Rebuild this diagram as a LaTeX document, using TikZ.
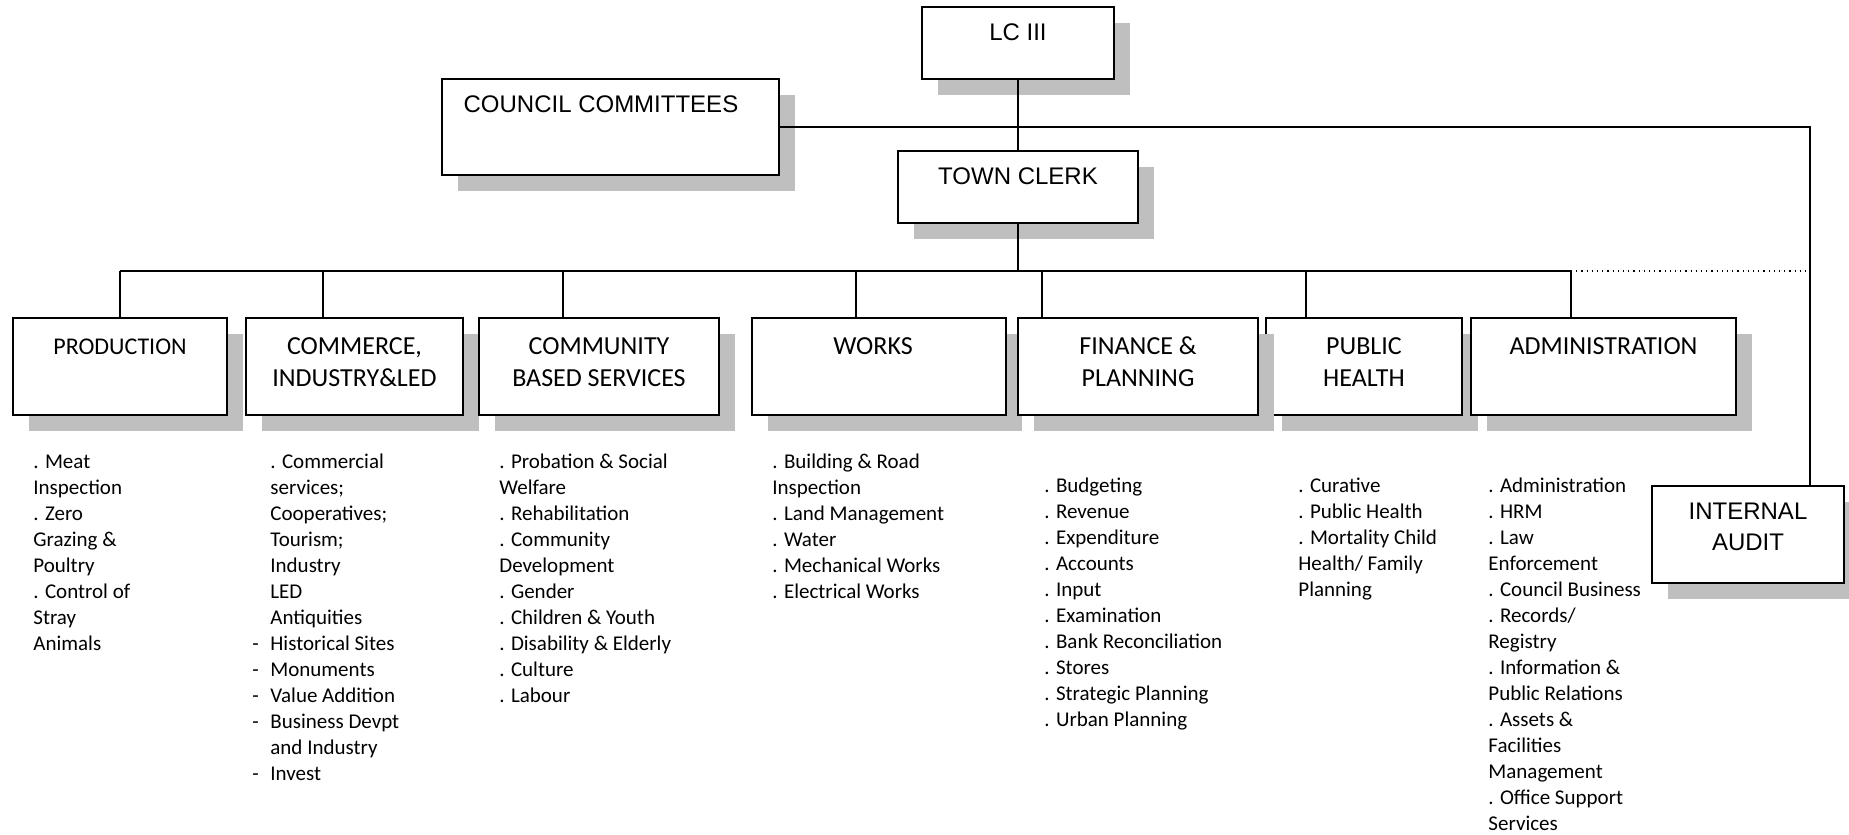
\documentclass[tikz,border=0pt]{standalone}
\usepackage{fontspec}
\setmainfont{Carlito}
\newfontfamily\arialfont{Liberation Sans}
\usetikzlibrary{shadows}
\definecolor{shade}{RGB}{191,191,191}
\newcommand\itemdash{\makebox[9pt][l]{-}}
\newcommand\ind{\hspace*{9pt}}
\begin{document}
\begin{tikzpicture}[x=0.5pt,y=-0.5pt,
  box/.style={draw, line width=0.8pt, fill=white, inner sep=0pt,
    drop shadow={shadow xshift=8pt, shadow yshift=-8pt, opacity=1, fill=shade, draw=none}},
  conn/.style={line width=0.6pt},
  dtitle/.style={anchor=north, inner sep=0pt, align=center, font=\fontsize{13}{16}\selectfont},
  atitle/.style={anchor=north, inner sep=0pt, align=center, font=\arialfont\fontsize{12}{15.5}\selectfont},
  items/.style={anchor=north west, inner sep=0pt, align=left, font=\fontsize{10.5}{13}\selectfont},
  dept/.style={box, minimum height=48.5pt}]
\useasboundingbox (0,0) rectangle (1849,835);
\fill[white] (0,0) rectangle (1849,835);

% top boxes
\node[box, minimum width=96pt, minimum height=36pt] (lc) at (1018,43) {};
\node[atitle] (lct) at ([yshift=-5pt]lc.north) {\rule{0pt}{12pt}LC III};
\node[box, minimum width=168.5pt, minimum height=48pt] (cc) at (610.5,127) {};
\node[atitle, anchor=north west, align=left] (cct) at ([xshift=11pt,yshift=-5pt]cc.north west) {\rule{0pt}{12pt}COUNCIL COMMITTEES};
\node[box, minimum width=120pt, minimum height=36pt] (tc) at (1018,187) {};
\node[atitle] (tct) at ([yshift=-5pt]tc.north) {\rule{0pt}{12pt}TOWN CLERK};

% department boxes
\node[dept, minimum width=107pt] (prod) at (120,366.5) {};
\node[dtitle, font=\fontsize{12}{16}\selectfont] (prodt) at ([yshift=-6.3pt]prod.north) {\rule{0pt}{12pt}PRODUCTION};
\node[dept, minimum width=108.5pt] (comm) at (354.5,366.5) {};
\node[dtitle] (commt) at ([yshift=-6.3pt]comm.north) {\rule{0pt}{12pt}COMMERCE,\\INDUSTRY\&LED};
\node[dept, minimum width=120pt] (cbs) at (599,366.5) {};
\node[dtitle] (cbst) at ([yshift=-6.3pt]cbs.north) {\rule{0pt}{12pt}COMMUNITY\\BASED SERVICES};
\node[dept, minimum width=127pt] (works) at (879,366.5) {};
\node[dtitle] (workst) at ([xshift=-3pt,yshift=-6.3pt]works.north) {\rule{0pt}{12pt}WORKS};
\node[dept, minimum width=98pt] (ph) at (1364,366.5) {};
\node[dtitle] (pht) at ([yshift=-6.3pt]ph.north) {\rule{0pt}{12pt}PUBLIC\\HEALTH};
\node[dept, minimum width=120pt] (fin) at (1138,366.5) {};
\node[dtitle] (fint) at ([yshift=-6.3pt]fin.north) {\rule{0pt}{12pt}FINANCE \&\\PLANNING};
\node[dept, minimum width=132.5pt] (adm) at (1603.5,366.5) {};
\node[dtitle] (admt) at ([yshift=-6.3pt]adm.north) {\rule{0pt}{12pt}ADMINISTRATION};

% internal audit
\node[box, minimum width=96pt, minimum height=48.5pt] (ia) at (1748,534.5) {};
\node[atitle] (iat) at ([yshift=-5pt]ia.north) {\rule{0pt}{12pt}INTERNAL\\AUDIT};

% lists
\node[items] (lprod) at (33,448) {\rule{0pt}{10pt}. Meat\\Inspection\\. Zero\\Grazing \&\\Poultry\\. Control of\\Stray\\Animals};
\node[items] (lcomm) at (252,448) {\rule{0pt}{10pt}\ind. Commercial\\\ind services;\\\ind Cooperatives;\\\ind Tourism;\\\ind Industry\\\ind LED\\\ind Antiquities\\\itemdash Historical Sites\\\itemdash Monuments\\\itemdash Value Addition\\\itemdash Business Devpt\\\ind and Industry\\\itemdash Invest};
\node[items] (lcbs) at (499,448) {\rule{0pt}{10pt}. Probation \& Social\\Welfare\\. Rehabilitation\\. Community\\Development\\. Gender\\. Children \& Youth\\. Disability \& Elderly\\. Culture\\. Labour};
\node[items] (lworks) at (772,448) {\rule{0pt}{10pt}. Building \& Road\\Inspection\\. Land Management\\. Water\\. Mechanical Works\\. Electrical Works};
\node[items] (lfin) at (1044,472) {\rule{0pt}{10pt}. Budgeting\\. Revenue\\. Expenditure\\. Accounts\\. Input\\. Examination\\. Bank Reconciliation\\. Stores\\. Strategic Planning\\. Urban Planning};
\node[items] (lph) at (1298,472) {\rule{0pt}{10pt}. Curative\\. Public Health\\. Mortality Child\\Health/ Family\\Planning};
\node[items] (ladm) at (1488,472) {\rule{0pt}{10pt}. Administration\\. HRM\\. Law\\Enforcement\\. Council Business\\. Records/\\Registry\\. Information \&\\Public Relations\\. Assets \&\\Facilities\\Management\\. Office Support\\Services};

% connectors
\coordinate (bus) at (0,271);
\coordinate (xprod) at (120,0);
\coordinate (xcomm) at (323,0);
\coordinate (xcbs) at (563,0);
\coordinate (xworks) at (856,0);
\coordinate (xfin) at (1042,0);
\coordinate (xph) at (1306,0);
\coordinate (xadm) at (1571,0);
\coordinate (xia) at (1810,0);

\draw[conn] (lc.south) -- (tc.north);
\draw[conn] (cc.east) -| (xia |- ia.north);
\draw[conn] (tc.south) -- (tc.south |- bus);
\draw[conn] (xprod |- bus) -- (xadm |- bus);
\draw[conn, dotted] (xadm |- bus) -- (xia |- bus);
\draw[conn] (xprod |- bus) -- (xprod |- prod.north);
\draw[conn] (xcomm |- bus) -- (xcomm |- comm.north);
\draw[conn] (xcbs |- bus) -- (xcbs |- cbs.north);
\draw[conn] (xworks |- bus) -- (xworks |- works.north);
\draw[conn] (xfin |- bus) -- (xfin |- fin.north);
\draw[conn] (xph |- bus) -- (xph |- ph.north);
\draw[conn] (xadm |- bus) -- (xadm |- adm.north);
\end{tikzpicture}
\end{document}
